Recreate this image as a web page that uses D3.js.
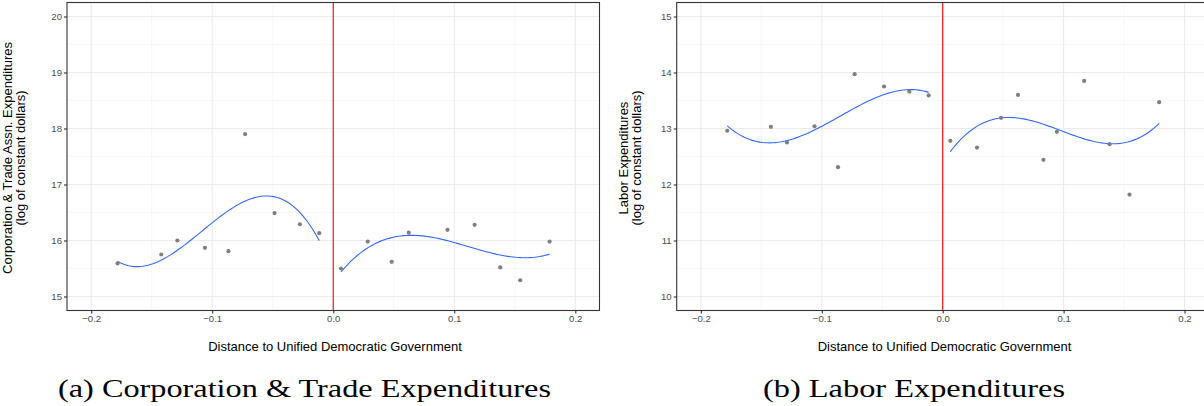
<!DOCTYPE html>
<html><head><meta charset="utf-8">
<script src="https://cdn.jsdelivr.net/npm/d3@7"></script>
<style>body{margin:0;background:#fff}svg{display:block}</style>
</head><body>
<svg id="c" width="1204" height="406"></svg>
<script>
// ---- data ----
const distLeft = [-0.1782, -0.1421, -0.1288, -0.1060, -0.0866, -0.0728, -0.0485, -0.0276, -0.0116];
const distRightA = [0.0064, 0.0285, 0.0483, 0.0624, 0.0944, 0.1168, 0.1380, 0.1545, 0.1788];
const distRightB = [0.0063, 0.0284, 0.0483, 0.0623, 0.0833, 0.0944, 0.1170, 0.1380, 0.1545, 0.1790];
const corpLeft = [15.59, 15.75, 16.00, 15.87, 15.81, 17.90, 16.49, 16.29, 16.13];
const corpRight = [15.50, 15.98, 15.62, 16.14, 16.19, 16.28, 15.52, 15.29, 15.98];
const laborLeft = [12.96, 13.03, 12.75, 13.04, 12.31, 13.97, 13.75, 13.66, 13.59];
const laborRight = [12.78, 12.66, 13.19, 13.60, 12.44, 12.94, 13.85, 12.72, 11.82, 13.47];
const xTicks = [-0.2, -0.1, 0.0, 0.1, 0.2];
const corpTicks = [15, 16, 17, 18, 19, 20];
const laborTicks = [10, 11, 12, 13, 14, 15];
const xTitle = "Distance to Unified Democratic Government";
const corpYTitle = ["Corporation & Trade Assn. Expenditures", "(log of constant dollars)"];
const laborYTitle = ["Labor Expenditures", "(log of constant dollars)"];
const captions = ["(a) Corporation & Trade Expenditures", "(b) Labor Expenditures"];

// cubic least squares fit (as in a polynomial smooth)
function cubicFit(xs, ys) {
  const n = 4;
  const A = Array.from({length: n}, () => new Array(n + 1).fill(0));
  xs.forEach((x, k) => {
    const p = [1, x, x * x, x * x * x];
    for (let i = 0; i < n; i++) {
      for (let j = 0; j < n; j++) A[i][j] += p[i] * p[j];
      A[i][n] += p[i] * ys[k];
    }
  });
  for (let i = 0; i < n; i++) {
    let m = i;
    for (let r = i + 1; r < n; r++) if (Math.abs(A[r][i]) > Math.abs(A[m][i])) m = r;
    [A[i], A[m]] = [A[m], A[i]];
    for (let r = 0; r < n; r++) {
      if (r === i) continue;
      const f = A[r][i] / A[i][i];
      for (let c = i; c <= n; c++) A[r][c] -= f * A[i][c];
    }
  }
  const b = A.map((row, i) => row[n] / row[i]);
  return x => b[0] + b[1] * x + b[2] * x * x + b[3] * x * x * x;
}

const svg = d3.select("#c");
const fmt = d3.format(".1f");
const SANS = "Liberation Sans, Arial, sans-serif";

function panel(cfg) {
  const g = svg.append("g");
  const x = d3.scaleLinear().domain([-0.22, 0.22]).range([cfg.x0, cfg.x1]);
  const y = d3.scaleLinear().domain([cfg.ymin - 0.25, cfg.ymin + 5.25]).range([310.5, 2.5]);
  const clipId = "clip" + cfg.id;
  svg.append("clipPath").attr("id", clipId).append("rect")
    .attr("x", cfg.x0).attr("y", 2.5).attr("width", cfg.x1 - cfg.x0).attr("height", 308);
  const pg = g.append("g").attr("clip-path", `url(#${clipId})`);
  // minor grid
  const xMinor = d3.range(-0.25, 0.26, 0.1).map(v => +v.toFixed(2));
  const yMinor = cfg.ticks.slice(0, -1).map(v => v + 0.5);
  pg.selectAll(".gxm").data(xMinor).join("line")
    .attr("x1", d => x(d)).attr("x2", d => x(d)).attr("y1", 2.5).attr("y2", 310.5)
    .attr("stroke", "#f2f2f2").attr("stroke-width", 0.6);
  pg.selectAll(".gym").data(yMinor).join("line")
    .attr("x1", cfg.x0).attr("x2", cfg.x1).attr("y1", d => y(d)).attr("y2", d => y(d))
    .attr("stroke", "#f2f2f2").attr("stroke-width", 0.6);
  // major grid
  pg.selectAll(".gx").data(xTicks).join("line")
    .attr("x1", d => x(d)).attr("x2", d => x(d)).attr("y1", 2.5).attr("y2", 310.5)
    .attr("stroke", "#ebebeb").attr("stroke-width", 1.1);
  pg.selectAll(".gy").data(cfg.ticks).join("line")
    .attr("x1", cfg.x0).attr("x2", cfg.x1).attr("y1", d => y(d)).attr("y2", d => y(d))
    .attr("stroke", "#ebebeb").attr("stroke-width", 1.1);
  // vertical red line at the threshold
  pg.append("line").attr("x1", x(0)).attr("x2", x(0)).attr("y1", 2.5).attr("y2", 310.5)
    .attr("stroke", "#ff0000").attr("stroke-width", 1.1);
  // polynomial fits on each side
  [[cfg.xl, cfg.yl], [cfg.xr, cfg.yr]].forEach(([xs, ys]) => {
    const f = cubicFit(xs, ys);
    const lo = d3.min(xs), hi = d3.max(xs);
    const pts = d3.range(0, 81).map(i => lo + (hi - lo) * i / 80);
    pg.append("path").datum(pts)
      .attr("d", d3.line().x(d => x(d)).y(d => y(f(d))))
      .attr("fill", "none").attr("stroke", "#3366ff").attr("stroke-width", 1.1);
  });
  // points
  const pts = cfg.xl.map((d, i) => [d, cfg.yl[i]]).concat(cfg.xr.map((d, i) => [d, cfg.yr[i]]));
  pg.selectAll(".pt").data(pts).join("circle")
    .attr("cx", d => x(d[0])).attr("cy", d => y(d[1])).attr("r", 2.1)
    .attr("fill", "#7f7f7f");
  // border
  g.append("rect").attr("x", cfg.x0).attr("y", 2.5).attr("width", cfg.x1 - cfg.x0).attr("height", 308)
    .attr("fill", "none").attr("stroke", "#333333").attr("stroke-width", 1.1);
  // axes
  const ax = g.append("g").attr("transform", "translate(0,310.5)")
    .call(d3.axisBottom(x).tickValues(xTicks).tickFormat(fmt).tickSize(3).tickPadding(2));
  const ay = g.append("g").attr("transform", `translate(${cfg.x0},0)`)
    .call(d3.axisLeft(y).tickValues(cfg.ticks).tickFormat(d3.format("d")).tickSize(3).tickPadding(2));
  [ax, ay].forEach(a => {
    a.select(".domain").remove();
    a.selectAll("line").attr("stroke", "#333333").attr("stroke-width", 1.1);
    a.selectAll("text").attr("fill", "#4d4d4d").style("font-family", SANS).style("font-size", "9.6px");
  });
  // x title
  g.append("text").attr("x", cfg.xTitleX).attr("y", 351)
    .attr("text-anchor", "middle").style("font-family", SANS)
    .style("font-size", "13px").attr("fill", "#000").text(xTitle);
  // y title
  cfg.yTitle.forEach((t, i) => {
    g.append("text").attr("transform", `translate(${cfg.yTitleX + i * 13.5},158) rotate(-90)`)
      .attr("text-anchor", "middle").style("font-family", SANS)
      .style("font-size", "13px").attr("fill", "#000").text(t);
  });
  // caption
  g.append("text").attr("x", cfg.capX).attr("y", 397).attr("text-anchor", "middle")
    .style("font-family", "Liberation Serif, 'DejaVu Serif', serif").style("font-size", "25px")
    .attr("textLength", cfg.capW).attr("lengthAdjust", "spacingAndGlyphs")
    .attr("fill", "#000").text(cfg.caption);
}

panel({id: "a", x0: 67, x1: 599.5, ymin: 15, ticks: corpTicks,
  xl: distLeft, yl: corpLeft, xr: distRightA, yr: corpRight, xTitleX: 335,
  yTitle: corpYTitle, yTitleX: 11.5, caption: captions[0], capX: 304.5, capW: 493});
panel({id: "b", x0: 676.7, x1: 1208.7, ymin: 10, ticks: laborTicks,
  xl: distLeft, yl: laborLeft, xr: distRightB, yr: laborRight, xTitleX: 944.5,
  yTitle: laborYTitle, yTitleX: 627.5, caption: captions[1], capX: 914, capW: 302});
</script>
</body></html>
